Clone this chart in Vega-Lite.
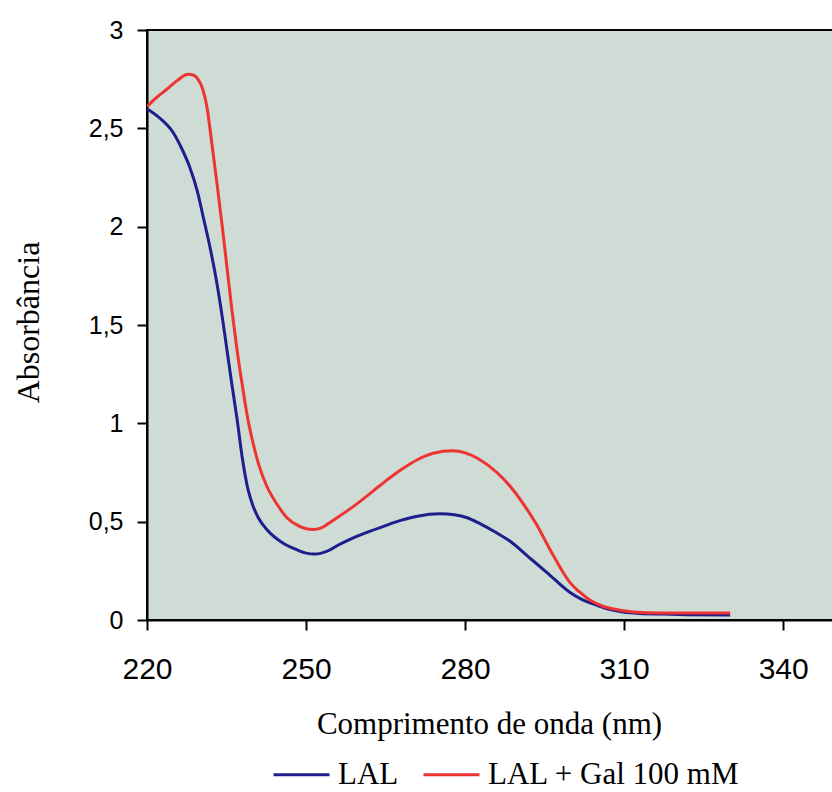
{
  "$schema": "https://vega.github.io/schema/vega-lite/v6.json",
  "autosize": {"type": "none"},
  "padding": {"left": 147, "top": 30, "right": 0, "bottom": 172},
  "width": 686,
  "height": 590,
  "background": "white",
  "config": {
    "view": {"fill": "#cfdbd5", "stroke": "black", "strokeWidth": 2},
    "axis": {"grid": false, "domainColor": "black", "domainWidth": 2, "tickColor": "black", "tickWidth": 2, "tickSize": 10, "labelColor": "black", "titleColor": "black", "labelFlush": false}
  },
  "datasets": {
    "spectra": [
      {"nm": 220, "abs": 2.60, "serie": "LAL"},
      {"nm": 222.5, "abs": 2.55, "serie": "LAL"},
      {"nm": 224.9, "abs": 2.48, "serie": "LAL"},
      {"nm": 226.5, "abs": 2.40, "serie": "LAL"},
      {"nm": 228.1, "abs": 2.30, "serie": "LAL"},
      {"nm": 229.5, "abs": 2.18, "serie": "LAL"},
      {"nm": 230.6, "abs": 2.05, "serie": "LAL"},
      {"nm": 232, "abs": 1.88, "serie": "LAL"},
      {"nm": 233.2, "abs": 1.71, "serie": "LAL"},
      {"nm": 234.2, "abs": 1.54, "serie": "LAL"},
      {"nm": 235.1, "abs": 1.37, "serie": "LAL"},
      {"nm": 236, "abs": 1.20, "serie": "LAL"},
      {"nm": 237, "abs": 1.02, "serie": "LAL"},
      {"nm": 238, "abs": 0.82, "serie": "LAL"},
      {"nm": 239, "abs": 0.67, "serie": "LAL"},
      {"nm": 240, "abs": 0.58, "serie": "LAL"},
      {"nm": 241, "abs": 0.52, "serie": "LAL"},
      {"nm": 242.6, "abs": 0.46, "serie": "LAL"},
      {"nm": 245.7, "abs": 0.39, "serie": "LAL"},
      {"nm": 248, "abs": 0.36, "serie": "LAL"},
      {"nm": 250, "abs": 0.34, "serie": "LAL"},
      {"nm": 251.7, "abs": 0.335, "serie": "LAL"},
      {"nm": 254, "abs": 0.35, "serie": "LAL"},
      {"nm": 256, "abs": 0.38, "serie": "LAL"},
      {"nm": 258.3, "abs": 0.41, "serie": "LAL"},
      {"nm": 261, "abs": 0.44, "serie": "LAL"},
      {"nm": 264, "abs": 0.47, "serie": "LAL"},
      {"nm": 267.7, "abs": 0.505, "serie": "LAL"},
      {"nm": 271, "abs": 0.528, "serie": "LAL"},
      {"nm": 275.3, "abs": 0.54, "serie": "LAL"},
      {"nm": 278, "abs": 0.535, "serie": "LAL"},
      {"nm": 280.4, "abs": 0.52, "serie": "LAL"},
      {"nm": 282.8, "abs": 0.49, "serie": "LAL"},
      {"nm": 285.5, "abs": 0.45, "serie": "LAL"},
      {"nm": 288.5, "abs": 0.40, "serie": "LAL"},
      {"nm": 292, "abs": 0.32, "serie": "LAL"},
      {"nm": 295.5, "abs": 0.24, "serie": "LAL"},
      {"nm": 299.8, "abs": 0.14, "serie": "LAL"},
      {"nm": 302, "abs": 0.105, "serie": "LAL"},
      {"nm": 304.9, "abs": 0.075, "serie": "LAL"},
      {"nm": 307, "abs": 0.055, "serie": "LAL"},
      {"nm": 309.8, "abs": 0.04, "serie": "LAL"},
      {"nm": 313, "abs": 0.033, "serie": "LAL"},
      {"nm": 317.4, "abs": 0.03, "serie": "LAL"},
      {"nm": 322, "abs": 0.027, "serie": "LAL"},
      {"nm": 330, "abs": 0.025, "serie": "LAL"},
      {"nm": 220, "abs": 2.61, "serie": "LAL + Gal 100 mM"},
      {"nm": 221.5, "abs": 2.65, "serie": "LAL + Gal 100 mM"},
      {"nm": 223.8, "abs": 2.70, "serie": "LAL + Gal 100 mM"},
      {"nm": 225.8, "abs": 2.745, "serie": "LAL + Gal 100 mM"},
      {"nm": 227.7, "abs": 2.775, "serie": "LAL + Gal 100 mM"},
      {"nm": 228.8, "abs": 2.77, "serie": "LAL + Gal 100 mM"},
      {"nm": 229.6, "abs": 2.75, "serie": "LAL + Gal 100 mM"},
      {"nm": 230.5, "abs": 2.70, "serie": "LAL + Gal 100 mM"},
      {"nm": 231.3, "abs": 2.61, "serie": "LAL + Gal 100 mM"},
      {"nm": 232.2, "abs": 2.43, "serie": "LAL + Gal 100 mM"},
      {"nm": 233.2, "abs": 2.22, "serie": "LAL + Gal 100 mM"},
      {"nm": 234.2, "abs": 2.00, "serie": "LAL + Gal 100 mM"},
      {"nm": 235.1, "abs": 1.79, "serie": "LAL + Gal 100 mM"},
      {"nm": 236, "abs": 1.58, "serie": "LAL + Gal 100 mM"},
      {"nm": 237, "abs": 1.37, "serie": "LAL + Gal 100 mM"},
      {"nm": 238, "abs": 1.19, "serie": "LAL + Gal 100 mM"},
      {"nm": 238.9, "abs": 1.04, "serie": "LAL + Gal 100 mM"},
      {"nm": 240, "abs": 0.90, "serie": "LAL + Gal 100 mM"},
      {"nm": 241.2, "abs": 0.78, "serie": "LAL + Gal 100 mM"},
      {"nm": 242.6, "abs": 0.68, "serie": "LAL + Gal 100 mM"},
      {"nm": 244.5, "abs": 0.59, "serie": "LAL + Gal 100 mM"},
      {"nm": 246.4, "abs": 0.52, "serie": "LAL + Gal 100 mM"},
      {"nm": 248.5, "abs": 0.48, "serie": "LAL + Gal 100 mM"},
      {"nm": 251.3, "abs": 0.46, "serie": "LAL + Gal 100 mM"},
      {"nm": 253, "abs": 0.47, "serie": "LAL + Gal 100 mM"},
      {"nm": 255, "abs": 0.505, "serie": "LAL + Gal 100 mM"},
      {"nm": 258.3, "abs": 0.565, "serie": "LAL + Gal 100 mM"},
      {"nm": 261, "abs": 0.62, "serie": "LAL + Gal 100 mM"},
      {"nm": 264, "abs": 0.685, "serie": "LAL + Gal 100 mM"},
      {"nm": 267.7, "abs": 0.76, "serie": "LAL + Gal 100 mM"},
      {"nm": 271, "abs": 0.815, "serie": "LAL + Gal 100 mM"},
      {"nm": 274, "abs": 0.848, "serie": "LAL + Gal 100 mM"},
      {"nm": 277.7, "abs": 0.86, "serie": "LAL + Gal 100 mM"},
      {"nm": 280, "abs": 0.85, "serie": "LAL + Gal 100 mM"},
      {"nm": 282.5, "abs": 0.82, "serie": "LAL + Gal 100 mM"},
      {"nm": 286, "abs": 0.75, "serie": "LAL + Gal 100 mM"},
      {"nm": 289.1, "abs": 0.66, "serie": "LAL + Gal 100 mM"},
      {"nm": 291.5, "abs": 0.57, "serie": "LAL + Gal 100 mM"},
      {"nm": 293.6, "abs": 0.48, "serie": "LAL + Gal 100 mM"},
      {"nm": 295, "abs": 0.41, "serie": "LAL + Gal 100 mM"},
      {"nm": 296.6, "abs": 0.33, "serie": "LAL + Gal 100 mM"},
      {"nm": 298.2, "abs": 0.255, "serie": "LAL + Gal 100 mM"},
      {"nm": 299.8, "abs": 0.19, "serie": "LAL + Gal 100 mM"},
      {"nm": 301.7, "abs": 0.14, "serie": "LAL + Gal 100 mM"},
      {"nm": 303.6, "abs": 0.10, "serie": "LAL + Gal 100 mM"},
      {"nm": 306, "abs": 0.07, "serie": "LAL + Gal 100 mM"},
      {"nm": 309.2, "abs": 0.05, "serie": "LAL + Gal 100 mM"},
      {"nm": 314.3, "abs": 0.037, "serie": "LAL + Gal 100 mM"},
      {"nm": 320, "abs": 0.035, "serie": "LAL + Gal 100 mM"},
      {"nm": 330, "abs": 0.035, "serie": "LAL + Gal 100 mM"}
    ]
  },
  "data": {"name": "spectra"},
  "mark": {"type": "line", "interpolate": "monotone", "strokeWidth": 3, "clip": true},
  "encoding": {
    "x": {
      "field": "nm", "type": "quantitative",
      "scale": {"domain": [220, 349.4], "nice": false, "zero": false},
      "axis": {
        "values": [220, 250, 280, 310, 340],
        "title": "Comprimento de onda (nm)",
        "titleFont": "Liberation Serif", "titleFontSize": 31, "titleFontWeight": "normal",
        "titleX": 342, "titleY": 113, "titleBaseline": "alphabetic", "titleAnchor": "middle",
        "labelFont": "Liberation Sans", "labelFontSize": 30, "labelBaseline": "alphabetic", "labelPadding": 48
      }
    },
    "y": {
      "field": "abs", "type": "quantitative",
      "scale": {"domain": [0, 3], "nice": false},
      "axis": {
        "values": [0, 0.5, 1, 1.5, 2, 2.5, 3],
        "labelExpr": "replace(format(datum.value, ''), '.', ',')",
        "title": "Absorbância",
        "titleFont": "Liberation Serif", "titleFontSize": 32, "titleFontWeight": "normal",
        "titleX": -109, "titleY": 292, "titleBaseline": "alphabetic",
        "labelFont": "Liberation Sans", "labelFontSize": 25, "labelPadding": 14
      }
    },
    "color": {
      "field": "serie", "type": "nominal",
      "scale": {"domain": ["LAL", "LAL + Gal 100 mM"], "range": ["#1e1e8c", "#ee3333"]},
      "legend": {
        "title": null, "orient": "none", "direction": "horizontal",
        "legendX": 125, "legendY": 715,
        "symbolType": "stroke", "symbolSize": 3136, "symbolStrokeWidth": 3,
        "labelFont": "Liberation Serif", "labelFontSize": 31, "labelColor": "black",
        "labelOffset": 7, "columnPadding": 18, "labelLimit": 400
      }
    }
  }
}
